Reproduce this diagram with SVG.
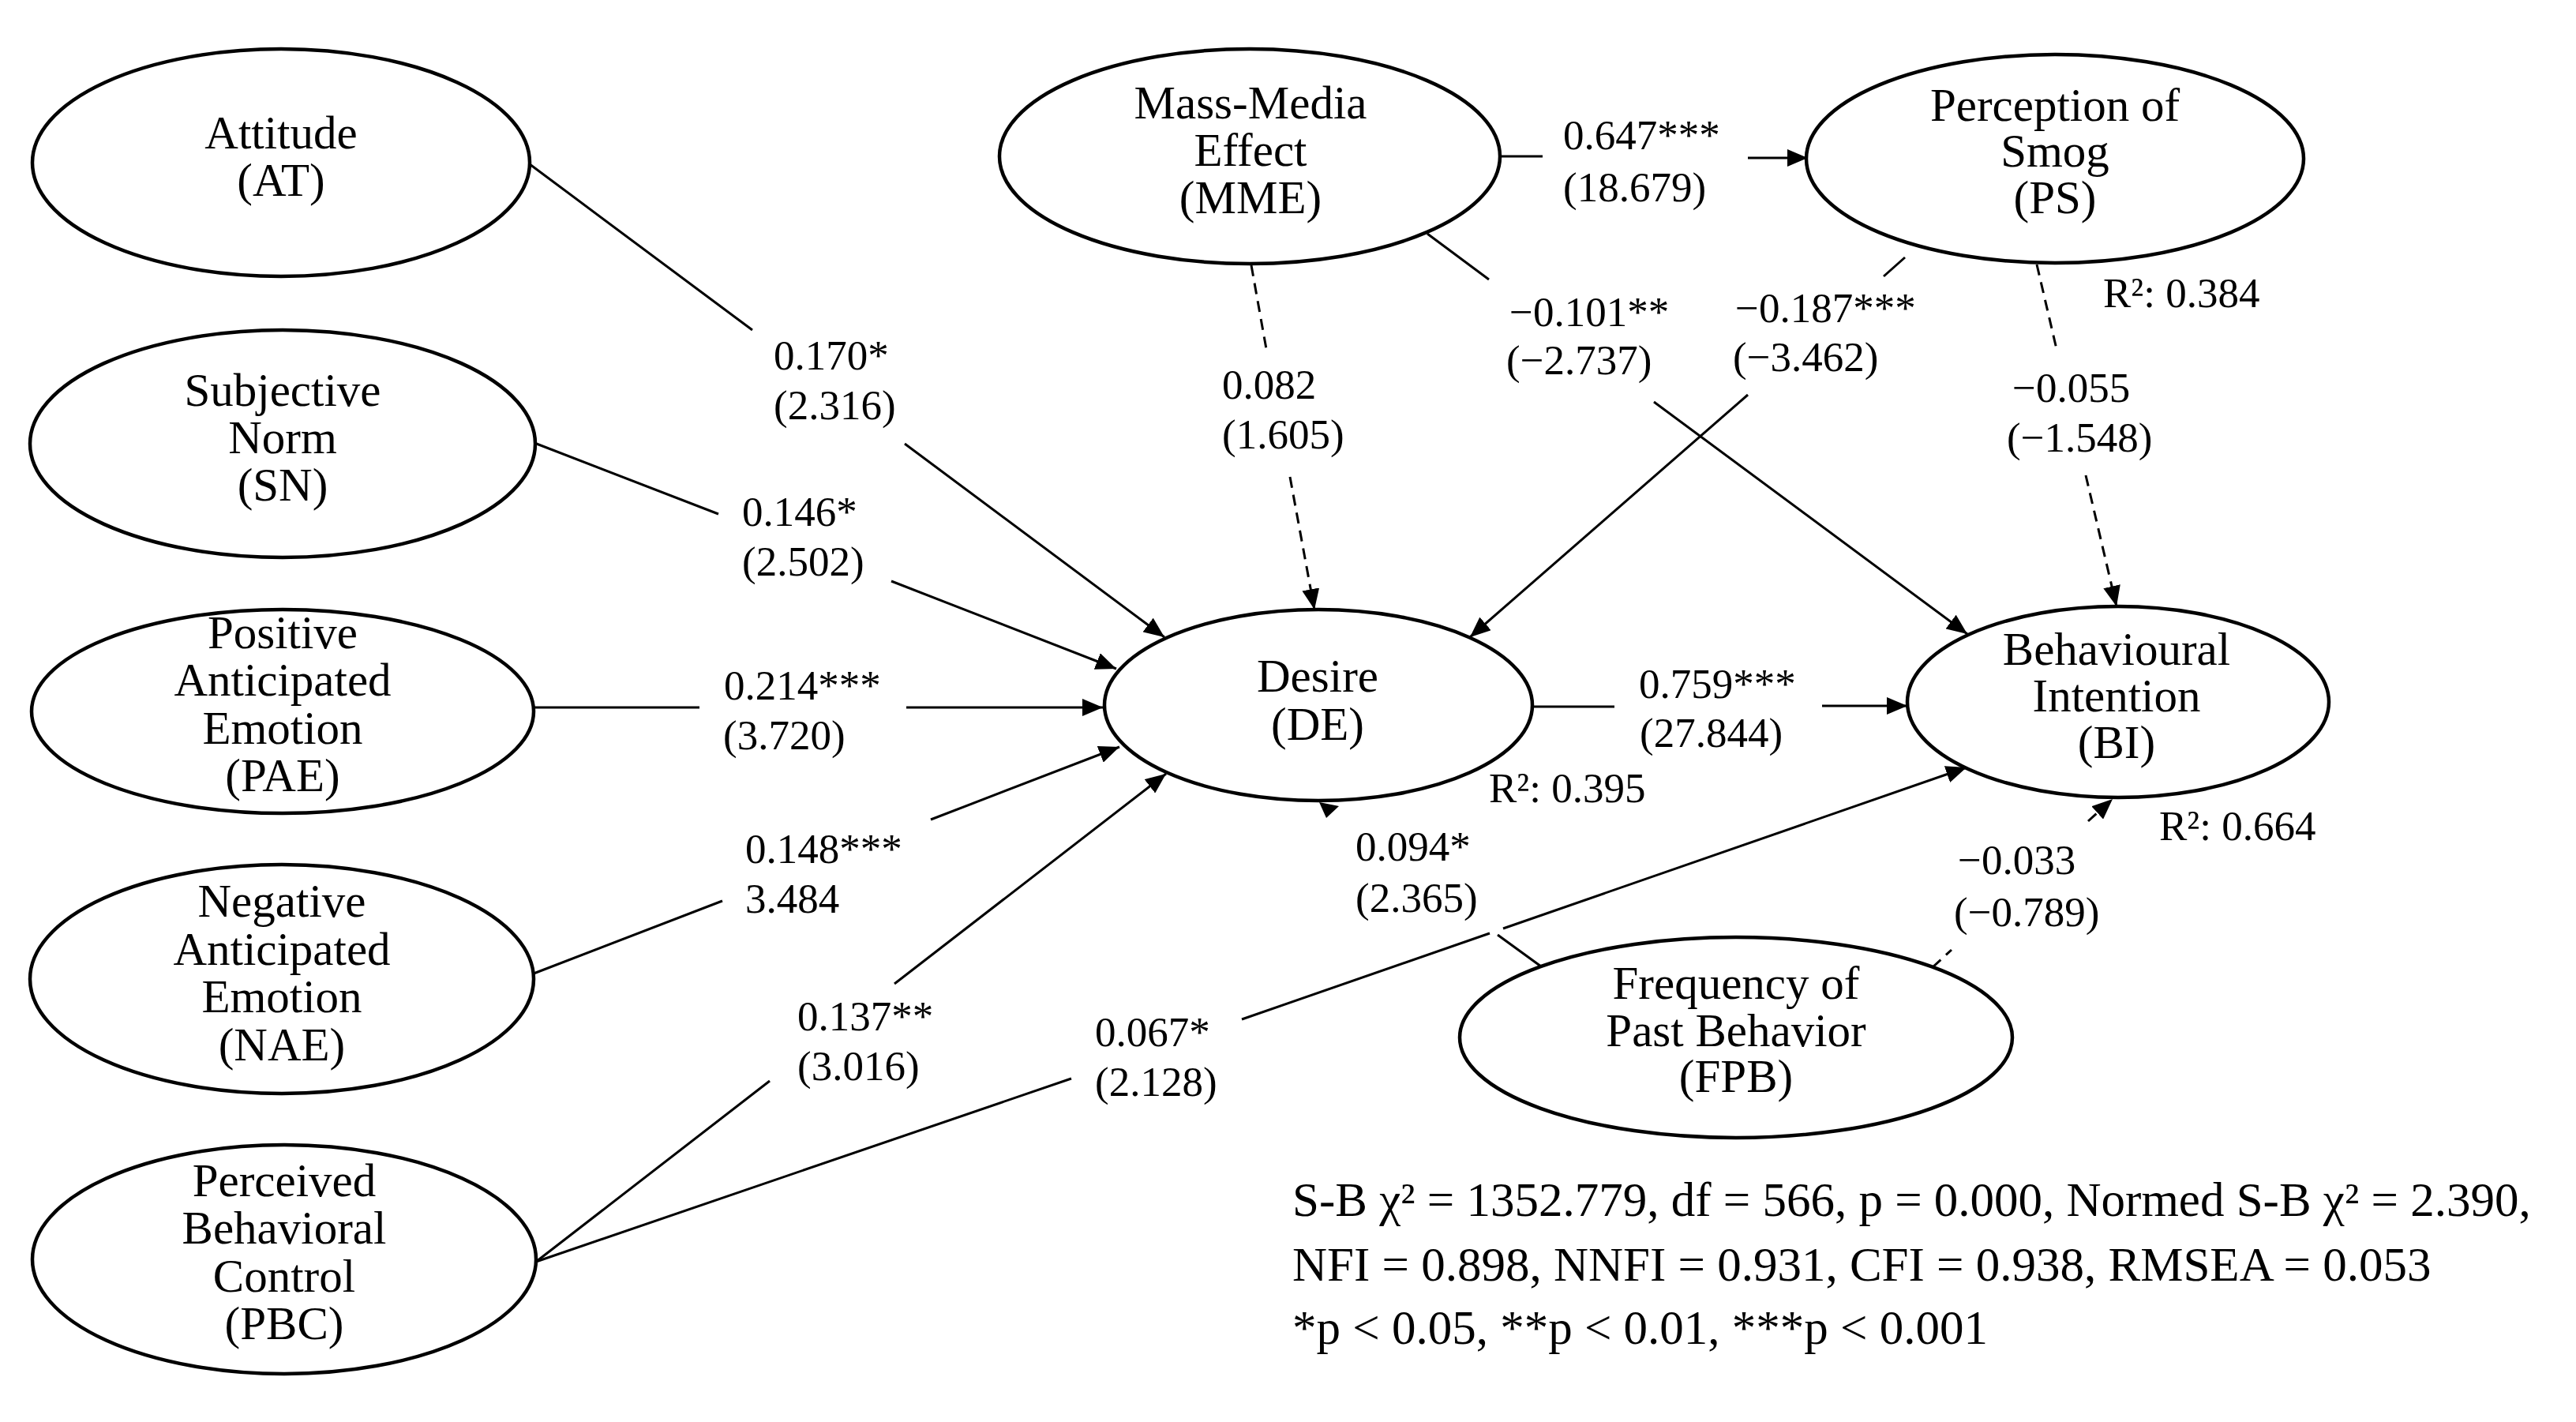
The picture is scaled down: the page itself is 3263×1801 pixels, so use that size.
<svg xmlns="http://www.w3.org/2000/svg" width="3263" height="1801" viewBox="0 0 3263 1801">
<style>
text{font-family:"Liberation Serif","Times New Roman",serif;fill:#000}
.n{font-size:59px;text-anchor:middle}
.l{font-size:53px}
.f{font-size:61px}
ellipse{fill:#fff;stroke:#000;stroke-width:4.5}
.c{fill:none;stroke:#000;stroke-width:3}
.d{stroke-dasharray:14 9}
</style>
<defs>
<marker id="ah" markerUnits="userSpaceOnUse" markerWidth="28" markerHeight="22" refX="26" refY="11" orient="auto">
<path d="M0,0 L26,11 L0,22 z" fill="#000" stroke="none"/>
</marker>
</defs>
<rect width="3263" height="1801" fill="#fff"/>
<g id="connectors">
<line class="c" x1="671" y1="208" x2="953" y2="418"/>
<line class="c" x1="1146" y1="562" x2="1475" y2="807" marker-end="url(#ah)"/>
<line class="c" x1="677" y1="561" x2="910" y2="651"/>
<line class="c" x1="1129" y1="736" x2="1414" y2="847" marker-end="url(#ah)"/>
<line class="c" x1="677" y1="896" x2="886" y2="896"/>
<line class="c" x1="1148" y1="896" x2="1397" y2="896" marker-end="url(#ah)"/>
<line class="c" x1="676" y1="1233" x2="915" y2="1141"/>
<line class="c" x1="1179" y1="1038" x2="1418" y2="946" marker-end="url(#ah)"/>
<line class="c" x1="679" y1="1598" x2="975" y2="1369"/>
<line class="c" x1="1133" y1="1246" x2="1477" y2="980" marker-end="url(#ah)"/>
<line class="c" x1="679" y1="1598" x2="1357" y2="1366"/>
<line class="c" x1="1573" y1="1291" x2="1887" y2="1182"/>
<line class="c" x1="1904" y1="1176" x2="2491" y2="972" marker-end="url(#ah)"/>
<line class="c d" x1="1585" y1="336" x2="1604" y2="442"/>
<line class="c d" x1="1634" y1="604" x2="1665" y2="772" marker-end="url(#ah)"/>
<line class="c" x1="1900" y1="198" x2="1954" y2="198"/>
<line class="c" x1="2214" y1="200" x2="2290" y2="200" marker-end="url(#ah)"/>
<line class="c" x1="1808" y1="296" x2="1886" y2="354"/>
<line class="c" x1="2095" y1="509" x2="2492" y2="803" marker-end="url(#ah)"/>
<line class="c" x1="2413" y1="326" x2="2386" y2="350"/>
<line class="c" x1="2214" y1="500" x2="1862" y2="807" marker-end="url(#ah)"/>
<line class="c d" x1="2580" y1="335" x2="2605" y2="442"/>
<line class="c d" x1="2642" y1="602" x2="2681" y2="768" marker-end="url(#ah)"/>
<line class="c" x1="1941" y1="895" x2="2045" y2="895"/>
<line class="c" x1="2308" y1="894" x2="2416" y2="894" marker-end="url(#ah)"/>
<line class="c" x1="1952" y1="1224" x2="1897" y2="1184"/>
<polygon points="1671,1016 1696,1021 1680,1036" fill="#000"/>
<line class="c d" x1="2448" y1="1225" x2="2472" y2="1203"/>
<line class="c d" x1="2645" y1="1040" x2="2676" y2="1012" marker-end="url(#ah)"/>
</g>
<g id="node-AT">
<ellipse cx="356" cy="206" rx="315" ry="144"/>
<text class="n" x="356" y="188">Attitude<tspan x="356" dy="60">(AT)</tspan></text>
</g>
<g id="node-SN">
<ellipse cx="358" cy="562" rx="320" ry="144"/>
<text class="n" x="358" y="514">Subjective<tspan x="358" dy="60">Norm</tspan><tspan x="358" dy="60">(SN)</tspan></text>
</g>
<g id="node-PAE">
<ellipse cx="358" cy="901" rx="318" ry="129"/>
<text class="n" x="358" y="821">Positive<tspan x="358" dy="60">Anticipated</tspan><tspan x="358" dy="61">Emotion</tspan><tspan x="358" dy="60">(PAE)</tspan></text>
</g>
<g id="node-NAE">
<ellipse cx="357" cy="1240" rx="319" ry="145"/>
<text class="n" x="357" y="1161">Negative<tspan x="357" dy="61">Anticipated</tspan><tspan x="357" dy="60">Emotion</tspan><tspan x="357" dy="61">(NAE)</tspan></text>
</g>
<g id="node-PBC">
<ellipse cx="360" cy="1595" rx="319" ry="145"/>
<text class="n" x="360" y="1515">Perceived<tspan x="360" dy="60">Behavioral</tspan><tspan x="360" dy="61">Control</tspan><tspan x="360" dy="60">(PBC)</tspan></text>
</g>
<g id="node-MME">
<ellipse cx="1583" cy="198" rx="317" ry="136"/>
<text class="n" x="1584" y="150">Mass-Media<tspan x="1584" dy="60">Effect</tspan><tspan x="1584" dy="60">(MME)</tspan></text>
</g>
<g id="node-PS">
<ellipse cx="2603" cy="201" rx="315" ry="132"/>
<text class="n" x="2603" y="153">Perception of<tspan x="2603" dy="58">Smog</tspan><tspan x="2603" dy="59">(PS)</tspan></text>
</g>
<g id="node-DE">
<ellipse cx="1670" cy="893" rx="271" ry="121"/>
<text class="n" x="1669" y="876">Desire<tspan x="1669" dy="61">(DE)</tspan></text>
</g>
<g id="node-BI">
<ellipse cx="2683" cy="889" rx="267" ry="121"/>
<text class="n" x="2681" y="842">Behavioural<tspan x="2681" dy="59">Intention</tspan><tspan x="2681" dy="59">(BI)</tspan></text>
</g>
<g id="node-FPB">
<ellipse cx="2199" cy="1314" rx="350" ry="127"/>
<text class="n" x="2199" y="1265">Frequency of<tspan x="2199" dy="60">Past Behavior</tspan><tspan x="2199" dy="58">(FPB)</tspan></text>
</g>
<g id="edge-labels">
<text class="l" x="980" y="468">0.170*</text>
<text class="l" x="980" y="531">(2.316)</text>
<text class="l" x="940" y="666">0.146*</text>
<text class="l" x="940" y="729">(2.502)</text>
<text class="l" x="917" y="886">0.214***</text>
<text class="l" x="916" y="949">(3.720)</text>
<text class="l" x="944" y="1093">0.148***</text>
<text class="l" x="944" y="1156">3.484</text>
<text class="l" x="1010" y="1305">0.137**</text>
<text class="l" x="1010" y="1368">(3.016)</text>
<text class="l" x="1387" y="1325">0.067*</text>
<text class="l" x="1387" y="1388">(2.128)</text>
<text class="l" x="1548" y="505">0.082</text>
<text class="l" x="1548" y="568">(1.605)</text>
<text class="l" x="1980" y="189">0.647***</text>
<text class="l" x="1980" y="255">(18.679)</text>
<text class="l" x="1912" y="413">−0.101**</text>
<text class="l" x="1908" y="474">(−2.737)</text>
<text class="l" x="2198" y="408">−0.187***</text>
<text class="l" x="2195" y="470">(−3.462)</text>
<text class="l" x="2549" y="509">−0.055</text>
<text class="l" x="2542" y="572">(−1.548)</text>
<text class="l" x="2076" y="884">0.759***</text>
<text class="l" x="2077" y="946">(27.844)</text>
<text class="l" x="1717" y="1090">0.094*</text>
<text class="l" x="1717" y="1155">(2.365)</text>
<text class="l" x="2480" y="1107">−0.033</text>
<text class="l" x="2475" y="1173">(−0.789)</text>
<text class="l" x="2664" y="389">R²: 0.384</text>
<text class="l" x="1886" y="1016">R²: 0.395</text>
<text class="l" x="2735" y="1064">R²: 0.664</text>
</g>
<g id="fit-indices">
<text class="f" x="1637" y="1540">S-B χ² = 1352.779, df = 566, p = 0.000, Normed S-B χ² = 2.390,</text>
<text class="f" x="1637" y="1622">NFI = 0.898, NNFI = 0.931, CFI = 0.938, RMSEA = 0.053</text>
<text class="f" x="1637" y="1702">*p &lt; 0.05, **p &lt; 0.01, ***p &lt; 0.001</text>
</g>
</svg>
